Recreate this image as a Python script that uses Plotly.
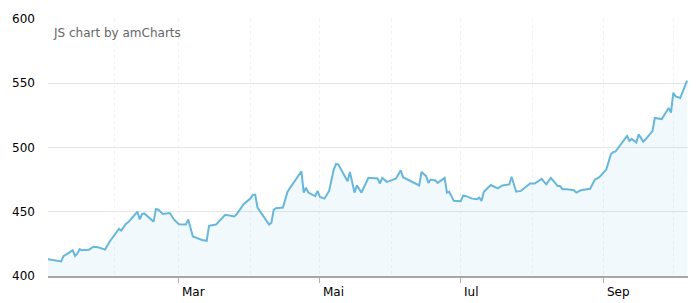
import plotly.graph_objects as go

dates = [
    "2015-01-03", "2015-01-09", "2015-01-10", "2015-01-14", "2015-01-15", "2015-01-16",
    "2015-01-17", "2015-01-18", "2015-01-21", "2015-01-23", "2015-01-25", "2015-01-28",
    "2015-01-30", "2015-02-01", "2015-02-03", "2015-02-04", "2015-02-06", "2015-02-07",
    "2015-02-09", "2015-02-11", "2015-02-12", "2015-02-13", "2015-02-14", "2015-02-18",
    "2015-02-19", "2015-02-20", "2015-02-22", "2015-02-25", "2015-02-27", "2015-03-01",
    "2015-03-04", "2015-03-05", "2015-03-07", "2015-03-11", "2015-03-13", "2015-03-14",
    "2015-03-17", "2015-03-21", "2015-03-25", "2015-03-26", "2015-03-29", "2015-04-01",
    "2015-04-02", "2015-04-03", "2015-04-04", "2015-04-09", "2015-04-10", "2015-04-11",
    "2015-04-12", "2015-04-15", "2015-04-17", "2015-04-23", "2015-04-24", "2015-04-25",
    "2015-04-26", "2015-04-29", "2015-04-30", "2015-05-01", "2015-05-03", "2015-05-05",
    "2015-05-07", "2015-05-08", "2015-05-09", "2015-05-13", "2015-05-14", "2015-05-16",
    "2015-05-17", "2015-05-19", "2015-05-22", "2015-05-23", "2015-05-26", "2015-05-27",
    "2015-05-28", "2015-05-30", "2015-05-31", "2015-06-03", "2015-06-05", "2015-06-06",
    "2015-06-13", "2015-06-14", "2015-06-16", "2015-06-17", "2015-06-18", "2015-06-20",
    "2015-06-21", "2015-06-24", "2015-06-25", "2015-06-26", "2015-06-28", "2015-07-01",
    "2015-07-02", "2015-07-03", "2015-07-06", "2015-07-08", "2015-07-09", "2015-07-10",
    "2015-07-11", "2015-07-14", "2015-07-17", "2015-07-19", "2015-07-22", "2015-07-23",
    "2015-07-25", "2015-07-27", "2015-07-31", "2015-08-02", "2015-08-05", "2015-08-07",
    "2015-08-09", "2015-08-12", "2015-08-13", "2015-08-14", "2015-08-16", "2015-08-19",
    "2015-08-20", "2015-08-22", "2015-08-26", "2015-08-28", "2015-08-30", "2015-09-02",
    "2015-09-04", "2015-09-05", "2015-09-06", "2015-09-11", "2015-09-12", "2015-09-13",
    "2015-09-15", "2015-09-16", "2015-09-18", "2015-09-19", "2015-09-22", "2015-09-23",
    "2015-09-26", "2015-09-29", "2015-09-30", "2015-10-01", "2015-10-02", "2015-10-04",
    "2015-10-07",
]

values = [
    413.1, 411.3, 415.4, 420.0, 415.6, 417.4,
    421.0, 420.0, 420.5, 422.8, 422.3, 420.5,
    426.9, 432.0, 436.7, 435.4, 440.5, 441.8,
    446.0, 450.0, 444.0, 448.2, 448.7, 442.3,
    452.0, 451.8, 448.2, 449.0, 443.6, 440.2,
    440.0, 444.0, 430.8, 428.0, 427.4, 439.0,
    440.0, 447.7, 446.4, 448.2, 455.9, 460.5,
    463.3, 463.3, 453.3, 440.0, 441.3, 451.5,
    452.8, 453.3, 465.6, 481.5, 464.9, 468.7,
    464.9, 462.1, 466.2, 461.5, 460.2, 466.2,
    482.8, 487.2, 486.7, 473.8, 481.0, 464.9,
    470.5, 464.9, 476.4, 476.2, 475.9, 472.0,
    476.4, 473.3, 473.8, 475.9, 482.3, 476.9,
    470.5, 481.0, 477.7, 472.5, 475.1, 474.4,
    472.5, 476.4, 464.9, 465.6, 458.5, 458.2,
    462.5, 462.3, 460.2, 459.8, 461.0, 458.5,
    465.6, 470.8, 468.2, 470.5, 471.3, 477.2,
    465.6, 466.2, 472.0, 472.0, 475.6, 471.3,
    476.4, 470.0, 470.0, 467.5, 467.5, 466.7,
    464.9, 466.7, 467.9, 474.9, 476.9, 482.8,
    494.9, 496.4, 496.9, 509.0, 505.1, 506.7,
    503.8, 510.2, 504.6, 506.4, 512.8, 523.0,
    522.1, 530.8, 527.2, 542.5, 539.8, 538.5,
    552.1,
]

month_labels = ["Mar", "Mai", "Iul", "Sep"]
month_dates = ["2015-03-01", "2015-05-01", "2015-07-01", "2015-09-01"]
y_ticks = [400, 450, 500, 550, 600]

FONT = "DejaVu Sans, Verdana, sans-serif"

fig = go.Figure()
fig.add_trace(go.Scatter(
    x=dates, y=values, mode="lines",
    line=dict(color="#67b7dc", width=2),
    fill="tozeroy", fillcolor="rgba(103,183,220,0.09)",
    hoverinfo="skip",
))

fig.update_layout(
    width=700, height=303,
    margin=dict(l=48, r=12, t=16, b=27),
    paper_bgcolor="white", plot_bgcolor="white",
    showlegend=False,
    font=dict(family=FONT, size=12, color="#000000"),
    xaxis=dict(
        type="date",
        range=["2015-01-03 07:00", "2015-10-07 09:00"],
        tickvals=month_dates,
        ticktext=["" for _ in month_labels],
        showticklabels=False,
        ticks="outside", ticklen=5, tickcolor="#b0b0b0", tickwidth=1,
        showgrid=True, gridcolor="#f1f1f1", griddash="dot", gridwidth=1,
        minor=dict(dtick="M1", tick0="2015-01-01", showgrid=True,
                   gridcolor="#f3f3f3", griddash="dot", gridwidth=1, ticks=""),
        showline=True, linecolor="#a6a6a6", linewidth=1.5,
        zeroline=False, fixedrange=True,
    ),
    yaxis=dict(
        range=[400, 600],
        tickvals=y_ticks,
        showgrid=True, gridcolor="#e6e6e6", gridwidth=1,
        zeroline=False, showline=False,
        ticks="", ticklabelstandoff=12,
        tickfont=dict(family=FONT, size=12, color="#000000"),
        fixedrange=True,
    ),
)

for lab, d in zip(month_labels, month_dates):
    fig.add_annotation(
        x=d, y=0, xref="x", yref="paper",
        text=lab, showarrow=False,
        xanchor="left", yanchor="top", xshift=1, yshift=-7,
        font=dict(family=FONT, size=12, color="#000000"),
    )

fig.add_annotation(
    x=0, y=1, xref="paper", yref="paper",
    text="JS chart by amCharts", showarrow=False,
    xanchor="left", yanchor="top", xshift=3, yshift=-5,
    font=dict(family=FONT, size=12, color="#666666"),
)

fig.write_html("out.html")
